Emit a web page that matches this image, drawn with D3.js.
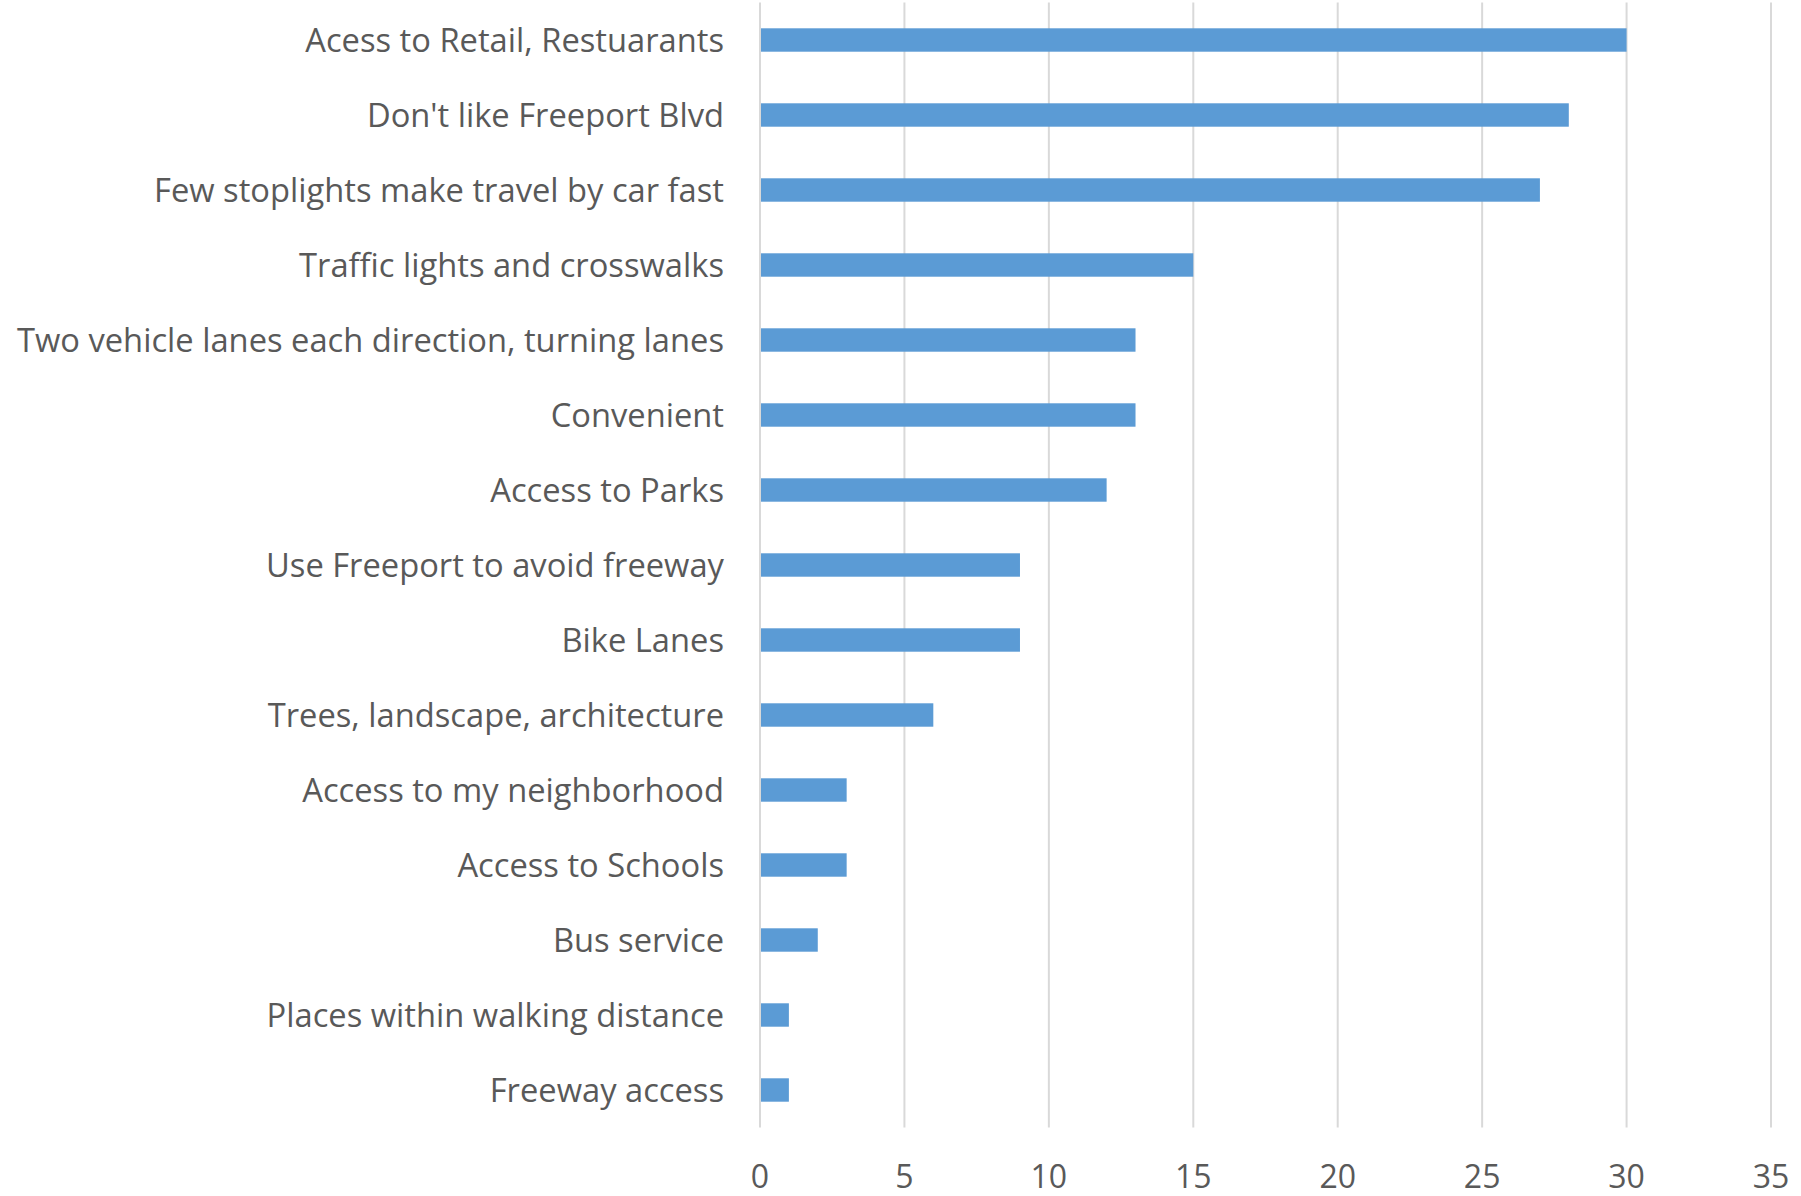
<!DOCTYPE html>
<html>
<head>
<meta charset="utf-8">
<script src="https://cdn.jsdelivr.net/npm/d3@7"></script>
<style>
  html, body { margin: 0; padding: 0; background: #ffffff; }
  svg { display: block; }
  text { font-family: "Open Sans", Lato, sans-serif; fill: #595959; }
</style>
</head>
<body>
<div id="chart"></div>
<script>
// categories, top to bottom
var categories = [
    "Acess to Retail, Restuarants",
    "Don't like Freeport Blvd",
    "Few stoplights make travel by car fast",
    "Traffic lights and crosswalks",
    "Two vehicle lanes each direction, turning lanes",
    "Convenient",
    "Access to Parks",
    "Use Freeport to avoid freeway",
    "Bike Lanes",
    "Trees, landscape, architecture",
    "Access to my neighborhood",
    "Access to Schools",
    "Bus service",
    "Places within walking distance",
    "Freeway access"
];
var counts = [30, 28, 27, 15, 13, 13, 12, 9, 9, 6, 3, 3, 2, 1, 1];
var xTicks = [0, 5, 10, 15, 20, 25, 30, 35];

var width = 1801, height = 1196;
var plot = {left: 760, right: 1771, top: 2.5, bottom: 1127.5};

var svg = d3.select("#chart")
    .append("svg")
    .attr("width", width)
    .attr("height", height);

var x = d3.scaleLinear()
    .domain([0, 35])
    .range([plot.left, plot.right]);

var y = d3.scaleBand()
    .domain(categories)
    .range([plot.top, plot.bottom])
    .paddingInner(0.688)
    .paddingOuter(0.344);

// vertical gridlines
svg.append("g")
    .selectAll("line")
    .data(xTicks)
    .enter().append("line")
    .attr("x1", d => x(d))
    .attr("x2", d => x(d))
    .attr("y1", plot.top)
    .attr("y2", plot.bottom)
    .style("stroke", "#d9d9d9")
    .style("stroke-width", 2);

// bars
svg.append("g")
    .selectAll("rect")
    .data(categories)
    .enter().append("rect")
    .attr("x", x(0) + 1)
    .attr("y", d => y(d))
    .attr("width", (d, i) => x(counts[i]) - x(0) - 1)
    .attr("height", y.bandwidth())
    .style("fill", "#5b9bd5");

// category labels
svg.append("g")
    .selectAll("text")
    .data(categories)
    .enter().append("text")
    .attr("x", plot.left - 36)
    .attr("y", d => y(d) + y.bandwidth() / 2 + 1)
    .attr("dy", "0.35em")
    .attr("text-anchor", "end")
    .style("font-size", "32.7px")
    .text(d => d);

// x tick labels
svg.append("g")
    .selectAll("text")
    .data(xTicks)
    .enter().append("text")
    .attr("x", d => x(d))
    .attr("y", 1177)
    .attr("dy", "0.35em")
    .attr("text-anchor", "middle")
    .style("font-size", "32px")
    .text(d => d);
</script>
</body>
</html>
